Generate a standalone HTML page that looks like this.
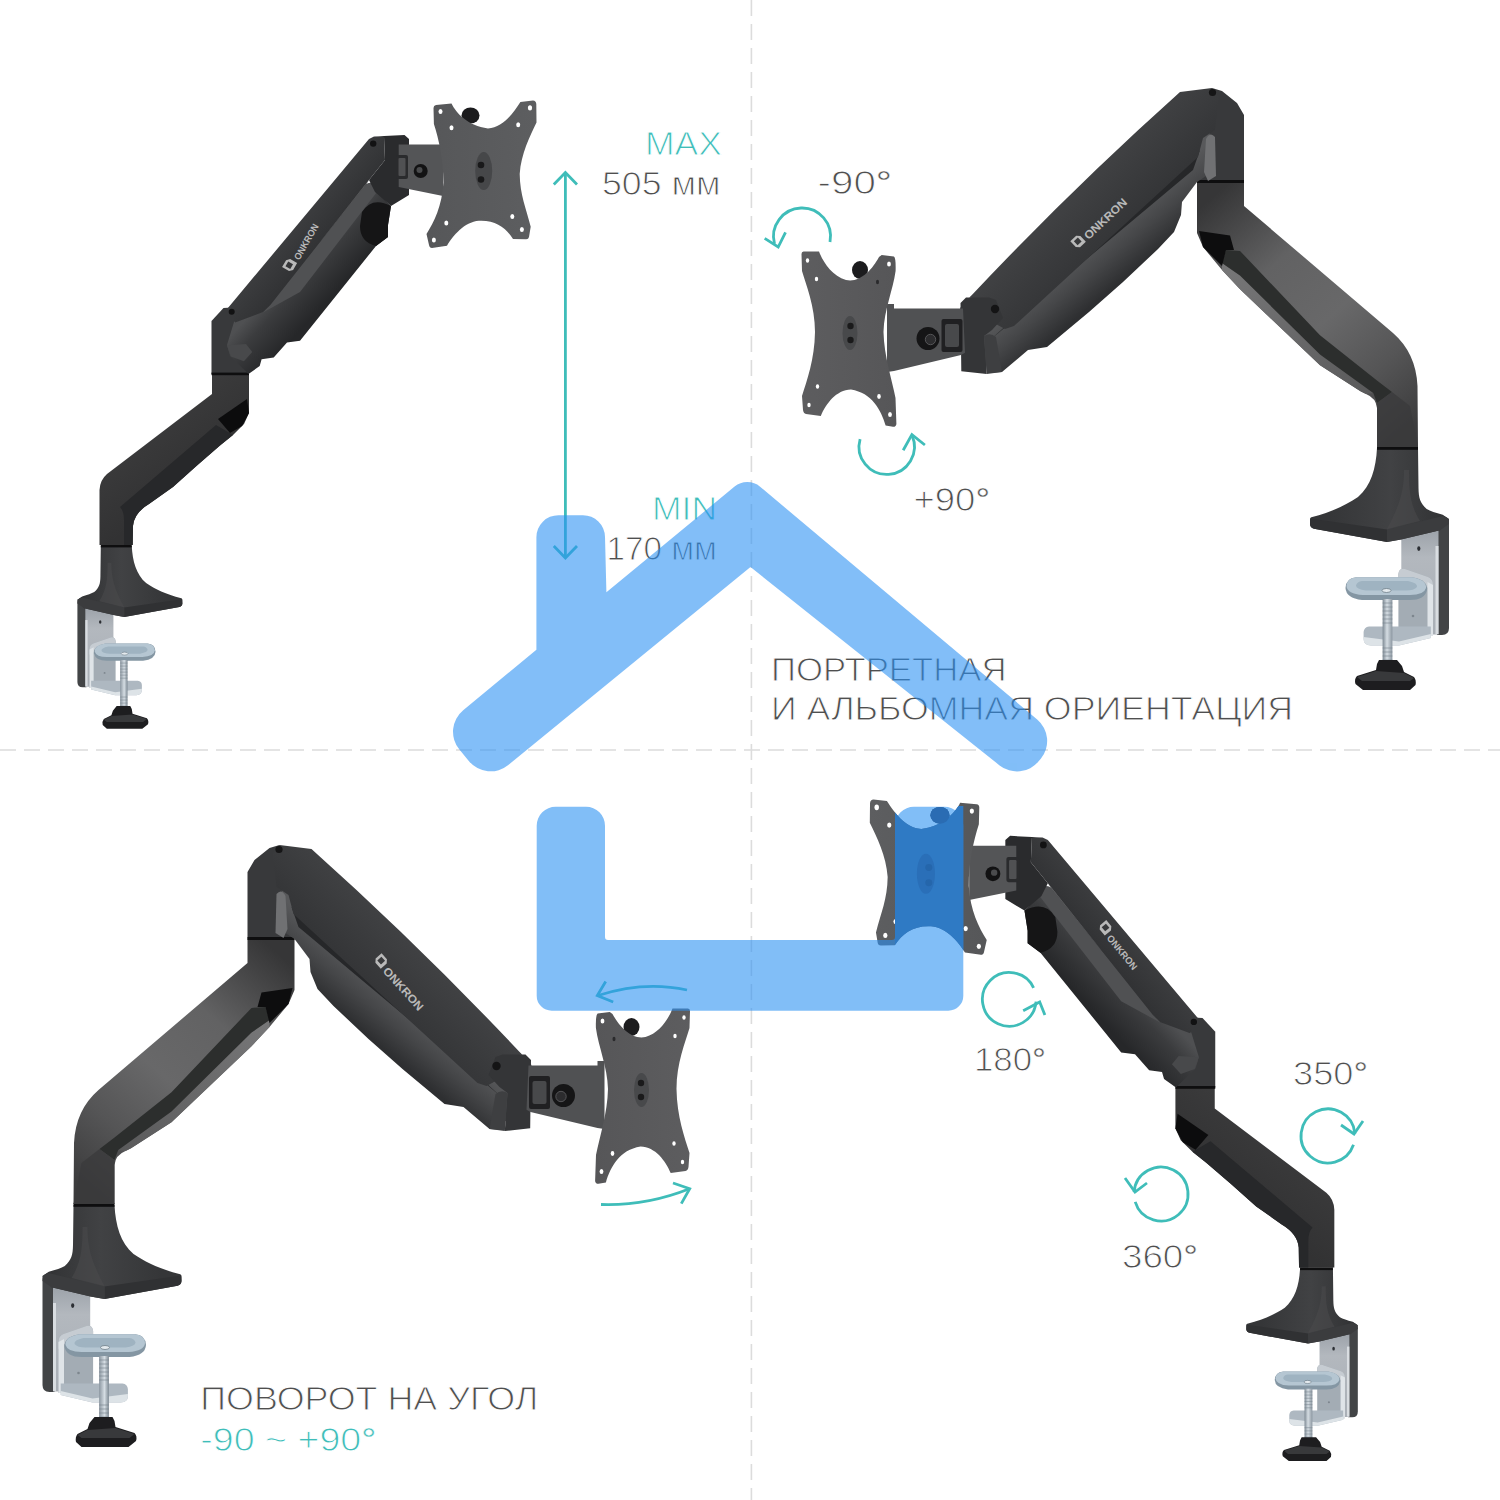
<!DOCTYPE html>
<html><head><meta charset="utf-8"><title>arm</title>
<style>
html,body{margin:0;padding:0;background:#fff;}
svg{display:block;}
text{font-family:"Liberation Sans",sans-serif;}
</style></head><body>
<svg width="1500" height="1500" viewBox="0 0 1500 1500">

<defs>
 <linearGradient id="silverV" gradientUnits="userSpaceOnUse" x1="0" y1="532" x2="0" y2="634">
  <stop offset="0" stop-color="#9ea4ab"/><stop offset="0.25" stop-color="#b3b8be"/><stop offset="1" stop-color="#a9afb6"/></linearGradient>
 <linearGradient id="screwH" gradientUnits="userSpaceOnUse" x1="1382.6" y1="0" x2="1392.4" y2="0">
  <stop offset="0" stop-color="#7d8993"/><stop offset="0.45" stop-color="#d5dde3"/><stop offset="1" stop-color="#8b96a0"/></linearGradient>
 <linearGradient id="baseG" gradientUnits="userSpaceOnUse" x1="1330" y1="0" x2="1440" y2="0">
  <stop offset="0" stop-color="#353638"/><stop offset="0.55" stop-color="#414244"/><stop offset="1" stop-color="#333436"/></linearGradient>
 <linearGradient id="lowB" gradientUnits="userSpaceOnUse" x1="1215" y1="195" x2="1415" y2="425">
  <stop offset="0" stop-color="#363637"/><stop offset="0.14" stop-color="#4a4a4b"/><stop offset="0.3" stop-color="#626263"/><stop offset="0.55" stop-color="#686869"/><stop offset="0.78" stop-color="#555556"/><stop offset="1" stop-color="#3c3c3d"/></linearGradient>
 <linearGradient id="stripB" gradientUnits="userSpaceOnUse" x1="1230" y1="270" x2="1370" y2="392">
  <stop offset="0" stop-color="#767677"/><stop offset="1" stop-color="#5a5a5b"/></linearGradient>
 <linearGradient id="housB" gradientUnits="userSpaceOnUse" x1="1080" y1="250" x2="1112" y2="288">
  <stop offset="0" stop-color="#58595b"/><stop offset="0.5" stop-color="#454648"/><stop offset="1" stop-color="#2e2f31"/></linearGradient>
 <linearGradient id="covB" gradientUnits="userSpaceOnUse" x1="1060" y1="200" x2="1110" y2="250">
  <stop offset="0" stop-color="#414244"/><stop offset="1" stop-color="#333436"/></linearGradient>
 <linearGradient id="plateB" gradientUnits="userSpaceOnUse" x1="800" y1="0" x2="897" y2="0">
  <stop offset="0" stop-color="#5d5d5f"/><stop offset="1" stop-color="#565658"/></linearGradient>
 <linearGradient id="lowA" gradientUnits="userSpaceOnUse" x1="150" y1="430" x2="190" y2="480">
  <stop offset="0" stop-color="#3a3a3b"/><stop offset="1" stop-color="#323233"/></linearGradient>
 <linearGradient id="housA" gradientUnits="userSpaceOnUse" x1="300" y1="260" x2="335" y2="292">
  <stop offset="0" stop-color="#4f5052"/><stop offset="0.35" stop-color="#3b3c3e"/><stop offset="1" stop-color="#262729"/></linearGradient>
 <linearGradient id="covA" gradientUnits="userSpaceOnUse" x1="290" y1="225" x2="320" y2="250">
  <stop offset="0" stop-color="#3d3e40"/><stop offset="1" stop-color="#303133"/></linearGradient>
 <linearGradient id="plateA" gradientUnits="userSpaceOnUse" x1="428" y1="0" x2="537" y2="0">
  <stop offset="0" stop-color="#565759"/><stop offset="1" stop-color="#5d5e60"/></linearGradient>
 <clipPath id="barClip"><rect x="895" y="806" width="68.3" height="205"/></clipPath>
</defs>

<rect width="1500" height="1500" fill="#fff"/>

<g stroke="#dcdcdc" stroke-width="1.6" stroke-dasharray="16 8" fill="none">
 <path d="M0,750 L1500,750"/>
 <path d="M751.4,0 L751.4,1500"/>
</g>

<g>
<g id="clampB">
 <path d="M1437,514 L1444,516 Q1449,518 1449,523 L1449,628 Q1449,635 1442,635 L1437,635 Z" fill="#424446"/>
 <path d="M1401.3,536 L1438.5,530 L1438.5,634.5 L1401.3,634.5 Z" fill="url(#silverV)"/>
 <rect x="1435.5" y="546" width="3" height="88" fill="#d9dde1"/>
 <ellipse cx="1418.8" cy="548.6" rx="1.6" ry="2.4" fill="#2c2f34"/>
 <path d="M1398.4,574 Q1399,568 1405,569 L1428,577 Q1433,579 1433,585 L1433,636 L1398.4,636 Z" fill="#a3acb4"/>
 <path d="M1398.4,574 Q1399,568 1405,569 L1428,577 Q1433,579 1433,585 L1433,592 Q1425,584 1412,582 L1398.4,581 Z" fill="#c6ccd2"/>
 <path d="M1427.5,582 L1433,585 L1433,636 L1427.5,636 Z" fill="#dfe4e8"/>
 <circle cx="1413" cy="616" r="1.3" fill="#7d868e"/>
 <path d="M1369,626.4 L1430.8,626.4 L1430.8,638 L1399,645.6 L1371,645.6 Q1363.6,645 1363.6,639 L1363.6,632 Q1364,627 1369,626.4 Z" fill="#aeb8c1"/>
 <path d="M1363.6,637 L1399,641.5 L1430.8,634 L1430.8,638 L1399,645.6 L1371,645.6 Q1363.6,645 1363.6,639 Z" fill="#dde3e7"/>
 <path d="M1356,577.2 L1412,577.2 Q1428,580 1427,590 Q1425,600 1410,600 L1362,600 Q1346,598 1345.5,588 Q1346,578 1356,577.2 Z" fill="#8496a3"/>
 <path d="M1357,577.2 L1412,577.2 Q1427,580 1426,588 Q1424,595 1410,595 L1363,595 Q1347,594 1346.5,586 Q1347,578 1357,577.2 Z" fill="#b5c6d2"/>
 <path d="M1362,581 L1408,581 Q1418,583 1417,587 Q1414,590.5 1406,590.5 L1366,590.5 Q1356,589 1356,585.5 Q1357,581.5 1362,581 Z" fill="#9fb3c1"/>
 <ellipse cx="1386.5" cy="590.5" rx="4.5" ry="2" fill="#e4eaee" stroke="#6d7d88" stroke-width="0.8"/>
 <rect x="1382.6" y="599" width="9.8" height="67" fill="url(#screwH)"/>
 <path d="M1382.6,603 h9.8 M1382.6,607 h9.8 M1382.6,611 h9.8 M1382.6,615 h9.8 M1382.6,619 h9.8 M1382.6,623 h9.8 M1382.6,648 h9.8 M1382.6,652 h9.8 M1382.6,656 h9.8 M1382.6,660 h9.8" stroke="#76828b" stroke-width="1.1" opacity="0.6"/>
 <path d="M1379,660 L1397,660 L1402,666 L1404,672 L1414,677 Q1416.5,680 1415.5,685 L1410,690 L1363,690 L1355.5,684 Q1354,679 1357,676 L1376,670 L1377,664 Z" fill="#1d1d1f"/>
 <path d="M1357,677 L1376,671 L1404,673 L1414,678 L1410,681 L1362,681 Z" fill="#38393b"/>
 <path d="M1377,448 L1418,448 L1418.5,488 C1418.7,498 1420,503 1426.7,509 Q1432,512 1442.7,514.7 L1449,519 L1440,530.3 L1401,539.5 L1387,542 L1314,528.7 Q1310,527.5 1310,524 L1310,520 Q1310,517.5 1311.3,517.3 C1332,512 1346,505 1358,497 C1371,486 1376,468 1377,448 Z" fill="url(#baseG)"/>
 <path d="M1404,470 C1404,490 1400,505 1387,529 L1420,521 C1410,505 1409,490 1409,470 Z" fill="#4a4b4d" opacity="0.55"/>
 <path d="M1310.3,518.5 L1387,529.5 L1387,542 L1314,528.7 Q1310,527.5 1310,524 Z" fill="#303133"/>
 <path d="M1387,529.5 L1443,516 L1449,519 L1449,524 L1440,530.3 L1401,539.5 L1387,542 Z" fill="#3b3c3e"/>
 <rect x="1377" y="446.2" width="41" height="3.6" fill="#0e0e0f"/>
</g>

<g id="armB">
 <!-- column + lower arm -->
 <path d="M1197,182 L1244,182 L1244,206 L1393,333 Q1416,353 1417.5,386 L1418,447 L1377,447 L1377,408 Q1376,398 1366,394 L1360.5,391.3 L1320,365.2 L1240,289.3 L1222,270 L1203,247 L1197,233 Z" fill="url(#lowB)"/>
 <!-- light underside strip -->
 <path d="M1222,263 L1240,275.5 L1320,354.5 L1373.3,393 L1366,394 L1360.5,391.3 L1320,365.2 L1240,289.3 L1222,270 Z" fill="url(#stripB)"/>
 <!-- dark band -->
 <path d="M1226,250 L1240,250.9 L1320,335.3 L1377.6,381 L1392,392 L1377,403 L1373.3,393 L1320,354.5 L1240,275.5 L1222,263 Z" fill="#2c2e2d"/>
 <!-- column shading -->
 <path d="M1377,403 L1392,392 L1410,406 L1418,447 L1377,447 Z" fill="#3a3a3b" opacity="0.75"/>
 <path d="M1199,231 L1230,235.5 L1234,250 L1226,250 L1222,266 L1203,247 Z" fill="#0d0d0e"/>
 <!-- elbow block -->
 <path d="M1197,182 L1203,176 L1214,98 L1212,88 L1222,91 L1237,103 L1244,115 L1244,182 Z" fill="#38393b"/>
 <rect x="1197" y="180" width="47" height="3" fill="#0e0e0f"/>
 <!-- upper arm: lower housing -->
 <path d="M1210,130 L1206,176 L1197,182 L1182,202 L1181,215 L1174,232 L1158,249 L1123,282 L1089,312 L1047,347 L1028,350 L1002,372 L987,373 L986,364 L962,360 L960,308 L970,297 Z" fill="url(#housB)"/>
 <path d="M1204,172 L1206,139 Q1210,131 1215,137 L1216,176 L1208,181 Z" fill="#707173"/>
 <!-- slot / middle band -->
 <path d="M1200,150 L1193,170 L990,340 L1010,322 Z" fill="#262729"/>
 <!-- cover -->
 <path d="M1212,88 L1219,97 L1215,130 L1203,138 L1198,157 L1014,326 L1005,329 L992,322 L986,304 L970,297 Q1070.5,190 1180,92 Z" fill="url(#covB)"/>
 <circle cx="1212.5" cy="92.5" r="3.6" fill="#151516"/>
 <!-- knuckle at left end -->
 <path d="M960.5,303 L966,297.5 L989,297.5 L996,300 L1003,318 L992,330 L984,336 L986.7,374 L961.3,371.3 Z" fill="#343537"/>
 <path d="M984,336 Q990,332 996,337 L1002,372 L986.7,374 Z" fill="#3e3f41"/>
 <circle cx="995" cy="309" r="4.2" fill="#141415"/>
 <!-- hinge bracket -->
 <path d="M887,304 L894,304 L894,308.6 L963,308.6 L965,352.8 L961,355 L894,371 L887,372 Z" fill="#505153"/>
 <rect x="941.5" y="319" width="21" height="33" rx="2" fill="#202022"/>
 <rect x="945" y="324" width="14" height="23" rx="2" fill="#48494b"/>
 <circle cx="928" cy="338.5" r="11.5" fill="#151516"/>
 <circle cx="930.5" cy="339.5" r="5.2" fill="#2c2c2e" stroke="#5a5a5c" stroke-width="0.9"/>
 <ellipse cx="860" cy="270" rx="8" ry="9" fill="#1c1c1e"/>
 <!-- VESA plate -->
 <path id="plateBp" d="M803.5,251.4 L819,251.4 C823,262 832,276 846,280 C860,283 872,270 879,257 L881.7,254.9 L893.9,256.6 Q896,258 895.6,271 C893,290 884,310 883.5,332 C884,356 892,380 895.5,398 L896.4,424 Q896,427 893,426.8 L885.6,425.6 C881,410 872,393 851,389.6 C836,390 826,404 820.8,416 L806,414 Q803.5,413.6 803,410 L802,396 C807,380 814.5,360 815,332 C815,306 806,285 802,271 L801.5,254 Q801.5,251.4 803.5,251.4 Z" fill="url(#plateB)"/>
 <ellipse cx="850" cy="333" rx="7.5" ry="17" fill="#48494b"/>
 <circle cx="850.5" cy="326" r="3.2" fill="#1a1a1b"/><circle cx="850.5" cy="340" r="3.2" fill="#1a1a1b"/>
 <g fill="#fff">
  <ellipse cx="807.5" cy="260.5" rx="1.7" ry="2.3"/><ellipse cx="816.5" cy="279" rx="1.7" ry="2.3"/>
  <ellipse cx="889" cy="264" rx="1.9" ry="2.6"/><ellipse cx="877.5" cy="282" rx="1.5" ry="2.2" fill="#2a2a2c"/>
  <ellipse cx="809" cy="405" rx="1.7" ry="2.3"/><ellipse cx="817.5" cy="386.5" rx="1.7" ry="2.3"/>
  <ellipse cx="890" cy="414.5" rx="1.9" ry="2.6"/><ellipse cx="879" cy="396.5" rx="1.8" ry="2.4"/>
 </g>
</g>
</g>
<g transform="matrix(-1.0,0,0,1.0,1491.5,757)"><use href="#clampB"/><use href="#armB"/></g>
<g><g transform="matrix(-0.755,0,0,0.755,1171.4,207.8)"><use href="#clampB"/></g>
<g id="armA">
 <path d="M99.5,545 L99.5,490 Q100,480 107,474 L212,394 L212,374 L249,374 L249,413 L244,424 L233,435 L220,445.5 L197,465.5 L173,487 L149,504 Q134,513 133,526 L132.7,545 Z" fill="url(#lowA)"/>
 <path d="M120,507 L216,425 L233,435 L220,445.5 L197,465.5 L173,487 L149,504 Q134,513 133,526 L132.7,545 L124,545 L124,520 Q124,511 120,507 Z" fill="#27282a"/>
 <path d="M218,419 L247,399 L249,413 L242,426 L230,433 Z" fill="#0c0c0d"/>
 <!-- elbow block -->
 <path d="M211.5,374 L211.5,321 L223.5,308 L232,307.5 L262,352 L248.5,374 Z" fill="#38393b"/>
 <rect x="211.5" y="372.6" width="37.5" height="2.6" fill="#0e0e0f"/>
 <!-- upper arm housing -->
 <path d="M234,322 L375,190 L391,206 L388,225 L388,237 L376,246 L300,340.7 L287,342.5 L273.7,357.5 L261.6,359.3 L259.7,366 L248.5,374 L230,356 L227,345 Z" fill="url(#housA)"/>
 <path d="M227,345.3 L230.8,356.5 L243.9,361.2 L252.3,352 L246,344 Z" fill="#48494b"/>
 <!-- notch -->
 <path d="M362,212 Q372,196 391,206 L388,225 L388,237 L376,246 Q360,242 360,226 Z" fill="#151516"/>
 <!-- gas spring band -->
 <path d="M263,312.5 L366,184 Q374,180 380,188 L300,292 Z" fill="#505153"/>
 <path d="M262,313.5 L366.5,183 L369,180.5 L264,311 Z" fill="#1b1b1d"/>
 <!-- cover -->
 <path d="M227.5,308.5 L369,139 L374,136.5 L384,137 L385,160 L369,180 L270.4,305 L263,312 L235.2,322.5 Z" fill="url(#covA)"/>
 <circle cx="231.7" cy="311.7" r="3" fill="#121213"/>
 <circle cx="373.2" cy="143.6" r="3.2" fill="#121213"/>
 <!-- end hinge block -->
 <path d="M374,136.5 L404.5,135 L409,139 L409,195 L391,206 L375,192 L369,180 L385,160 L384,137 Z" fill="#2a2b2d"/>
 <!-- bracket -->
 <path d="M398.7,144.5 L443,144.5 L443,196 L398.7,187 Z" fill="#545557"/>
 <rect x="396" y="155" width="12" height="24" rx="2" fill="#2a2b2d"/>
 <rect x="398.5" y="158" width="7" height="18" rx="1" fill="#505153"/>
 <circle cx="420.7" cy="171" r="7" fill="#121213"/>
 <circle cx="419.5" cy="170" r="3" fill="#4a4b4d"/>
 <ellipse cx="470.5" cy="115.5" rx="9" ry="8" fill="#1b1b1d"/>
 <!-- VESA plate -->
 <path d="M436,105 L451.5,103.5 C456,113 468,126 488,128.4 C503,128 514,112 520.4,102 L533,100.5 Q536,100.5 536.3,104 L536.5,122.5 C530,136 521,154 519.7,174 C520,195 526,208 530.7,226.7 L529,237 Q528.5,239.3 526,239.2 L513,239 C506,228 496,220 479,220.8 C464,222 453,236 447,245.7 L432,248 Q429.5,248 429,245 L426.5,234 C434,222 442,206 443.4,182.7 C443.5,160 439,140 433.9,124 L433.5,108 Q433.5,105.3 436,105 Z" fill="url(#plateA)"/>
 <ellipse cx="483.7" cy="171" rx="8.5" ry="19" fill="#464749"/>
 <circle cx="481" cy="165" r="3.3" fill="#19191a"/><circle cx="481" cy="179.5" r="3.3" fill="#19191a"/>
 <g fill="#fff">
  <ellipse cx="440.5" cy="111.5" rx="2" ry="2.5"/><ellipse cx="451.5" cy="127.7" rx="2" ry="2.5"/>
  <ellipse cx="530" cy="107.9" rx="2.1" ry="2.7"/><ellipse cx="518.2" cy="124.7" rx="2" ry="2.5"/>
  <ellipse cx="521.9" cy="229.6" rx="2" ry="2.5"/><ellipse cx="512.3" cy="216.4" rx="2" ry="2.5"/>
  <ellipse cx="433.9" cy="239.9" rx="2" ry="2.5"/><ellipse cx="446.3" cy="223" rx="2" ry="2.5"/>
 </g>
</g>
</g>
<g transform="matrix(-1.063,0,0,1.053,1440.1,693.7)"><g transform="matrix(-0.755,0,0,0.755,1171.4,207.8)"><use href="#clampB"/></g><use href="#armA"/></g>
<g transform="translate(296,259) rotate(-60)" fill="#b9b9b9" font-weight="bold" font-size="9.5"><path d="M-14,-8 h8 l3,3 v8 h-8 l-3,-3 z M-11.5,-5.5 v5.5 h5.5 v-5.5 z" fill-rule="evenodd"/><text x="0" y="3.6" textLength="40" lengthAdjust="spacingAndGlyphs">ONKRON</text></g><g transform="translate(1086,237.5) rotate(-43)" fill="#b9b9b9" font-weight="bold" font-size="11.5"><path d="M-14,-8 h8 l3,3 v8 h-8 l-3,-3 z M-11.5,-5.5 v5.5 h5.5 v-5.5 z" fill-rule="evenodd"/><text x="0" y="3.6" textLength="54" lengthAdjust="spacingAndGlyphs">ONKRON</text></g><g transform="translate(385,969) rotate(48)" fill="#b9b9b9" font-weight="bold" font-size="11.5"><path d="M-14,-8 h8 l3,3 v8 h-8 l-3,-3 z M-11.5,-5.5 v5.5 h5.5 v-5.5 z" fill-rule="evenodd"/><text x="0" y="3.6" textLength="54" lengthAdjust="spacingAndGlyphs">ONKRON</text></g><g transform="translate(1109,936) rotate(50.5)" fill="#b9b9b9" font-weight="bold" font-size="9.5"><path d="M-14,-8 h8 l3,3 v8 h-8 l-3,-3 z M-11.5,-5.5 v5.5 h5.5 v-5.5 z" fill-rule="evenodd"/><text x="0" y="3.6" textLength="42" lengthAdjust="spacingAndGlyphs">ONKRON</text></g>

<g font-size="32.5" fill="#4f4f4f" stroke="#fff" stroke-width="0.95">
 <text x="645" y="154.6" fill="#3fbdb9" textLength="77" lengthAdjust="spacingAndGlyphs">MAX</text>
 <text x="602" y="194.5" textLength="118.5" lengthAdjust="spacingAndGlyphs">505 мм</text>
 <text x="652" y="519.5" fill="#3fbdb9" textLength="65" lengthAdjust="spacingAndGlyphs">MIN</text>
 <text x="606.5" y="560" textLength="110.5" lengthAdjust="spacingAndGlyphs">170 мм</text>
 <text x="817.5" y="194.2" textLength="74.5" lengthAdjust="spacingAndGlyphs">-90<tspan stroke-width="0.35">°</tspan></text>
 <text x="913.5" y="510.5" textLength="76.5" lengthAdjust="spacingAndGlyphs">+90<tspan stroke-width="0.35">°</tspan></text>
 <text x="771" y="680.8" textLength="235.5" lengthAdjust="spacingAndGlyphs">ПОРТРЕТНАЯ</text>
 <text x="771" y="720.4" textLength="522" lengthAdjust="spacingAndGlyphs">И АЛЬБОМНАЯ ОРИЕНТАЦИЯ</text>
 <text x="974" y="1071.3" textLength="72" lengthAdjust="spacingAndGlyphs">180<tspan stroke-width="0.35">°</tspan></text>
 <text x="1293" y="1085" textLength="75" lengthAdjust="spacingAndGlyphs">350<tspan stroke-width="0.35">°</tspan></text>
 <text x="1122" y="1268" textLength="76" lengthAdjust="spacingAndGlyphs">360<tspan stroke-width="0.35">°</tspan></text>
 <text x="200.3" y="1410.2" textLength="338" lengthAdjust="spacingAndGlyphs">ПОВОРОТ НА УГОЛ</text>
 <text x="200.3" y="1450.7" fill="#3fbdb9" textLength="176" lengthAdjust="spacingAndGlyphs">-90 ~ +90<tspan stroke-width="0.35">°</tspan></text>
</g>


<g fill="none" stroke="#3fbdb9" stroke-width="2.8" stroke-linecap="butt" stroke-linejoin="miter">
 <path d="M565.4,173 L565.4,557"/>
 <path d="M553.8,184.5 L565.4,172.5 L577,184.5"/>
 <path d="M553.8,546 L565.4,558 L577,546"/>
 <path d="M830.0,241.9 A28.5,28.5 0 1 0 774.5,243.9"/>
 <path d="M764.7,238.4 L778.2,247 L785.5,232.3"/>
 <path d="M860.1,439.1 A27.7,27.7 0 1 0 912.0,435.4"/>
 <path d="M903.2,450.2 L911.9,434.6 L924.9,445"/>
 <path d="M1033.6,987.8 A26.9,26.9 0 1 0 1036.1,1001.7"/>
 <path d="M1023.2,1010.7 L1039.7,1002 L1044.9,1015"/>
 <path d="M1353.5,1144.8 A27,27 0 1 1 1354.9,1133.6"/>
 <path d="M1341,1125 L1354,1134 L1363,1121"/>
 <path d="M1135.2,1201.9 A27,27 0 1 0 1134.1,1192.1"/>
 <path d="M1125,1178 L1135,1192 L1147,1183"/>
 <path d="M687,990 Q644,980.5 598,995.5"/>
 <path d="M605.7,981.5 L597.3,995.5 L613.2,1002"/>
 <path d="M601,1204.5 Q646,1206 689.5,1188.7"/>
 <path d="M673,1183 L689.7,1188.7 L681.3,1203.6"/>
</g>


<g opacity="0.59" fill="#2b91f3">
 <path d="M536.4,537.2 A22,22 0 0 1 558.4,515.2 L583.0,515.2 A22,22 0 0 1 605.0,536.7 L606.4,592.2 L734.6,486.6 A20,20 0 0 1 760.1,486.7 L1037.2,719.5 A28,28 0 0 1 1040.8,758.7 L1038.6,761.3 A28,28 0 0 1 999.6,765.4 L750.5,567.0 L508.3,765.0 A28,28 0 0 1 469.0,761.2 L459.4,749.6 A28,28 0 0 1 463.2,710.2 L536.4,649.8 Z"/>
 <path d="M536.7,825.7 A19,19 0 0 1 555.7,806.7 L586.0,806.7 A19,19 0 0 1 605.0,825.7 L605.0,937.0 A3,3 0 0 0 608.0,940.0 L892.0,940.0 A3,3 0 0 0 895.0,937.0 L895.0,825.7 A19,19 0 0 1 914.0,806.7 L944.3,806.7 A19,19 0 0 1 963.3,825.7 L963.3,995.7 A15,15 0 0 1 948.3,1010.7 L551.7,1010.7 A15,15 0 0 1 536.7,995.7 Z"/>
</g>
<g clip-path="url(#barClip)"><g transform="matrix(-1.063,0,0,1.053,1440.1,693.7)"><path d="M436,105 L451.5,103.5 C456,113 468,126 488,128.4 C503,128 514,112 520.4,102 L533,100.5 Q536,100.5 536.3,104 L536.5,122.5 C530,136 521,154 519.7,174 C520,195 526,208 530.7,226.7 L529,237 Q528.5,239.3 526,239.2 L513,239 C506,228 496,220 479,220.8 C464,222 453,236 447,245.7 L432,248 Q429.5,248 429,245 L426.5,234 C434,222 442,206 443.4,182.7 C443.5,160 439,140 433.9,124 L433.5,108 Q433.5,105.3 436,105 Z" fill="#2f7ac4"/>
 <ellipse cx="483.7" cy="171" rx="8.5" ry="19" fill="#2a6fb8"/>
 <circle cx="481" cy="165" r="3.3" fill="#2566ab"/><circle cx="481" cy="179.5" r="3.3" fill="#2566ab"/>
 <ellipse cx="470.5" cy="115.5" rx="9" ry="8" fill="#2a6cb3"/></g></g>

</svg>
</body></html>
